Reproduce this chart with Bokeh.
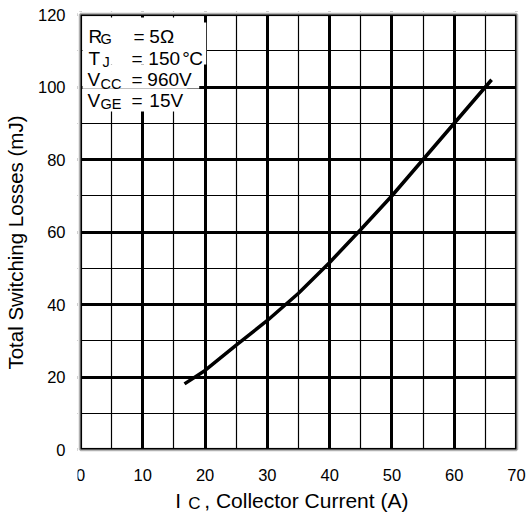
from bokeh.plotting import figure
from bokeh.models import FixedTicker, Label, BoxAnnotation, Range1d
from bokeh.embed import file_html
from bokeh.resources import INLINE

# ---- data ----
ic = [16.7, 20, 25, 30, 35, 40, 45, 50, 55, 60, 66]
losses = [18.1, 21.8, 28.8, 35.6, 43.1, 51.6, 60.7, 70.0, 80.0, 90.0, 102.0]
x_ticks = [0, 10, 20, 30, 40, 50, 60, 70]
x_minor = [5, 15, 25, 35, 45, 55, 65]
y_ticks = [0, 20, 40, 60, 80, 100, 120]
y_minor = [10, 30, 50, 70, 90, 110]
x_title_parts = ["I", "C", ", Collector Current (A)"]

FONT = "Liberation Sans"
W, H = 529, 513
AL, AR, AT, AB = 79, 516, 14, 449  # axes box edges in canvas px
XMAX, YMAX = 70, 120
PAD = 3                            # frame margin around the axes box
KX = (AR - AL) / XMAX              # px per x unit
KY = (AB - AT) / YMAX              # px per y unit

def px2x(px):
    return (px - AL) / KX

def px2y(py):
    return (AB - py) / KY

p = figure(width=W, height=H, output_backend="svg", toolbar_location=None,
           x_range=Range1d(px2x(AL - PAD), px2x(W)),
           y_range=Range1d(px2y(H), px2y(AT - PAD)),
           x_axis_location=None,
           min_border_left=AL - PAD, min_border_right=0,
           min_border_top=AT - PAD, min_border_bottom=0)
p.background_fill_color = "white"
p.border_fill_color = "white"
p.outline_line_color = None

xt = FixedTicker(ticks=x_ticks, minor_ticks=x_minor)
yt = FixedTicker(ticks=y_ticks, minor_ticks=y_minor)
p.yaxis.ticker = yt
p.xgrid.ticker = xt
p.ygrid.ticker = yt
for g in (p.xgrid, p.ygrid):
    g.grid_line_color = "black"
    g.grid_line_width = 3
    g.minor_grid_line_color = "black"
    g.minor_grid_line_width = 1.2

ax = p.yaxis[0]
ax.axis_line_color = None
ax.major_tick_line_color = None
ax.minor_tick_line_color = None
ax.major_tick_out = 0
ax.minor_tick_out = 0
ax.major_label_text_font = FONT
ax.major_label_text_font_size = "16.5px"
ax.major_label_text_color = "black"
ax.major_label_standoff = 9 + PAD
ax.axis_label = "\u00a0" * 7 + "Total Switching Losses (mJ)"
ax.axis_label_text_font = FONT
ax.axis_label_text_font_size = "20.5px"
ax.axis_label_text_font_style = "normal"
ax.axis_label_text_color = "black"
ax.axis_label_standoff = 8

# blank the margins outside the axes box (grid runs over the whole frame)
for kw in (dict(top=0), dict(right=0), dict(left=XMAX), dict(bottom=YMAX)):
    p.add_layout(BoxAnnotation(fill_color="white", fill_alpha=1.0, line_color=None,
                               level="underlay", **kw))

# white masks behind the condition text
for (x1, y1, y2) in [(184, 17, 42), (205, 22, 64), (198, 64, 88), (186, 88, 111)]:
    p.add_layout(BoxAnnotation(left=px2x(81), right=px2x(x1), top=px2y(y1), bottom=px2y(y2),
                               fill_color="white", fill_alpha=1.0, line_color=None,
                               level="underlay"))

p.line(ic, losses, line_color="black", line_width=3.5)

# axes box outline
p.add_layout(BoxAnnotation(left=0, right=XMAX, bottom=0, top=YMAX, fill_alpha=0,
                           line_color="black", line_width=3.5))

def txt(s, px, py, size="19px", align="left"):
    p.add_layout(Label(x=px2x(px), y=px2y(py), text=s, text_font=FONT, text_font_size=size,
                       text_color="black", text_baseline="alphabetic", text_align=align))

# x tick labels
for t in x_ticks:
    p.add_layout(Label(x=t, y=px2y(474.5), text=str(t), text_font=FONT,
                       text_font_size="16.5px", text_color="black",
                       text_baseline="alphabetic", text_align="center"))

SUB = "14.5px"
# conditions
txt("R", 87, 36); txt("G", 99, 38, SUB); txt("=", 132, 36); txt("5Ω", 148, 36)
txt("T", 87, 58); txt("J", 101, 61, SUB); txt("=", 130, 58); txt("150", 147, 58)
txt("°", 181, 58); txt("C", 188, 58)
txt("V", 86, 79); txt("CC", 99, 83, SUB); txt("=", 130, 79); txt("960V", 146, 79)
txt("V", 86, 99.5); txt("GE", 99, 103, SUB); txt("=", 130, 99.5); txt("15V", 148, 99.5)

# x-axis title: I_C, Collector Current (A)
txt(x_title_parts[0], 174, 500, "21px")
txt(x_title_parts[1], 187, 503, "17px")
txt(x_title_parts[2], 203, 500, "21px")

open("out.html", "w").write(file_html(p, INLINE))
